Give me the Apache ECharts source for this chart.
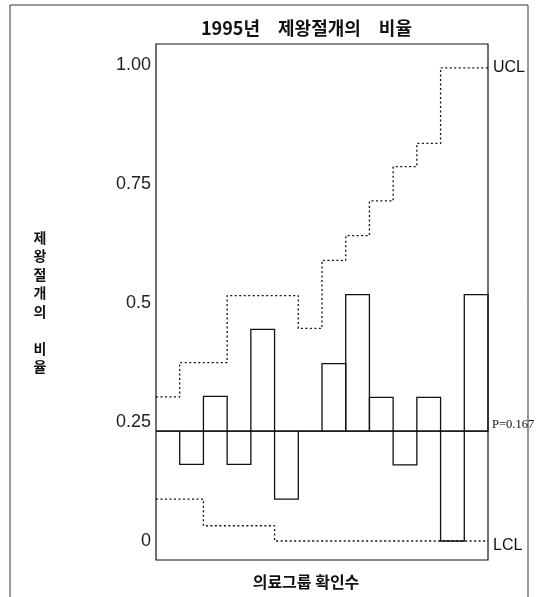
<!DOCTYPE html>
<html>
<head>
<meta charset="utf-8">
<script src="https://cdn.jsdelivr.net/npm/echarts@6/dist/echarts.min.js"></script>
<style>
  html, body { margin: 0; padding: 0; background: #fff; }
  #chart { width: 537px; height: 597px; }
</style>
</head>
<body>
<div id="chart"></div>
<script>
// 의료그룹별 제왕절개 비율 (p 관리도)
const groupIds = [1, 2, 3, 4, 5, 6, 7, 8, 9, 10, 11, 12, 13, 14]
const rates = [0.231, 0.161, 0.304, 0.161, 0.445, 0.088, 0.231, 0.373, 0.518, 0.302, 0.160, 0.302, 0, 0.518]
const uclValues = [0.303, 0.375, 0.375, 0.516, 0.516, 0.516, 0.447, 0.590, 0.642, 0.715, 0.787, 0.836, 0.995, 0.995]
const lclValues = [0.088, 0.088, 0.032, 0.032, 0.032, 0, 0, 0, 0, 0, 0, 0, 0, 0]
const centerLine = 0.231
const centerLabel = 'P=0.167'
const yTickValues = [0, 0.25, 0.5, 0.75, 1]
const yTickLabels = ['0', '0.25', '0.5', '0.75', '1.00']

const ink = '#111'
const sans = 'Liberation Sans'
const kr = 'Noto Sans CJK KR'

// 계단선: 그룹 i 의 값은 [i, i+1] 구간
function stepData(arr) {
    return arr.map((v, i) => [i, v]).concat([[arr.length, arr[arr.length - 1]]])
}

let myChart = echarts.init(document.getElementById('chart'))

let option = {
    animation: false,
    title: {
        text: '1995년\u3000제왕절개의\u3000비율',
        left: 196,
        top: 14,
        textStyle: { fontFamily: kr, fontSize: 18, fontWeight: 'bold', color: ink }
    },
    grid: {
        left: 156, right: 49, top: 44, bottom: 37,
        show: true, borderColor: ink, borderWidth: 1.2, backgroundColor: 'transparent'
    },
    xAxis: {
        type: 'value', min: 0, max: groupIds.length, show: false
    },
    yAxis: {
        type: 'value',
        min: -0.04,
        max: 1.045,
        interval: 0.01,
        axisLine: { show: false },
        axisTick: { show: false },
        splitLine: { show: false },
        axisLabel: {
            margin: 5,
            fontFamily: sans,
            fontSize: 18,
            color: '#222',
            formatter: function (v) {
                let idx = yTickValues.findIndex(t => Math.abs(t - v) < 1e-6)
                return idx >= 0 ? yTickLabels[idx] : ''
            }
        }
    },
    graphic: [
        {
            type: 'rect', shape: { x: 10, y: 5, width: 518, height: 600 },
            style: { fill: 'none', stroke: '#333', lineWidth: 1 }, silent: true
        },
        {
            type: 'text', x: 40, y: 228,
            style: {
                text: '제\n왕\n절\n개\n의\n\n비\n율',
                fontFamily: kr, fontSize: 14, fontWeight: 'bold', lineHeight: 18.5,
                fill: ink, textAlign: 'center', textVerticalAlign: 'top'
            }
        },
        {
            type: 'text', x: 306, y: 582,
            style: {
                text: '의료그룹 확인수',
                fontFamily: kr, fontSize: 16, fontWeight: 'bold',
                fill: ink, textAlign: 'center', textVerticalAlign: 'middle'
            }
        }
    ],
    series: [
        {
            name: 'P',
            type: 'line',
            data: [[0, centerLine], [groupIds.length, centerLine]],
            symbol: 'none',
            lineStyle: { color: ink, width: 1.2, type: 'solid' },
            endLabel: {
                show: true, formatter: centerLabel, distance: 4, offset: [0, -6],
                fontFamily: 'Liberation Serif', fontSize: 12.5, color: ink
            },
            z: 3
        },
        {
            name: 'UCL',
            type: 'line',
            step: 'end',
            data: stepData(uclValues),
            symbol: 'none',
            lineStyle: { color: ink, width: 1.3, type: [2, 2.5] },
            endLabel: {
                show: true, formatter: 'UCL', distance: 5,
                fontFamily: sans, fontSize: 16, color: ink
            }
        },
        {
            name: 'LCL',
            type: 'line',
            step: 'end',
            data: stepData(lclValues),
            symbol: 'none',
            lineStyle: { color: ink, width: 1.3, type: [2, 2.5] },
            endLabel: {
                show: true, formatter: 'LCL', distance: 5, offset: [0, 5],
                fontFamily: sans, fontSize: 16, color: ink
            }
        },
        {
            name: '비율',
            type: 'custom',
            data: rates.map((r, i) => [i, r]),
            renderItem: function (params, api) {
                let i = api.value(0)
                let a = api.coord([i, centerLine])
                let b = api.coord([i + 1, api.value(1)])
                return {
                    type: 'rect',
                    shape: {
                        x: a[0], y: Math.min(a[1], b[1]),
                        width: b[0] - a[0], height: Math.abs(b[1] - a[1])
                    },
                    style: { fill: 'none', stroke: ink, lineWidth: 1.3 }
                }
            },
            z: 4
        }
    ]
}

myChart.setOption(option)
</script>
</body>
</html>
